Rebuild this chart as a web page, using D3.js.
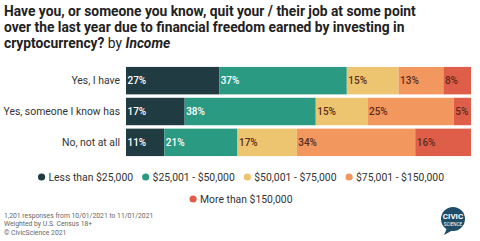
<!DOCTYPE html>
<html>
<head>
<meta charset="utf-8">
<script src="https://cdn.jsdelivr.net/npm/d3@7"></script>
<style>
  body { margin: 0; background: #fff; }
  svg { display: block; font-family: Roboto, "Noto Sans", sans-serif; }
</style>
</head>
<body>
<svg id="svg" width="480" height="241"></svg>
<script>
let width = 480;
let height = 241;

// data
let answers = ["Yes, I have", "Yes, someone I know has", "No, not at all"];
let incomes = ["Less than $25,000", "$25,001 - $50,000", "$50,001 - $75,000", "$75,001 - $150,000", "More than $150,000"];
let lessThan25k = [27, 17, 11];
let from25kTo50k = [37, 38, 21];
let from50kTo75k = [15, 15, 17];
let from75kTo150k = [13, 25, 34];
let moreThan150k = [8, 5, 16];
let colors = ["#213b43", "#2a9a83", "#edc46f", "#f2985e", "#df5e4a"];
let labelColors = ["#fff", "#fff", "#5a2c1c", "#5a2c1c", "#5a2c1c"];

let series = [lessThan25k, from25kTo50k, from50kTo75k, from75kTo150k, moreThan150k];
let rows = answers.map((a, i) => {
    let r = { answer: a };
    incomes.forEach((k, j) => r[k] = series[j][i]);
    return r;
});

let svg = d3.select("#svg");

// title
let title = svg.append("text")
    .style("font-size", "13.8px")
    .style("font-weight", "bold")
    .style("fill", "#222");
title.append("tspan").attr("x", 4).attr("y", 16)
    .text("Have you, or someone you know, quit your / their job at some point");
title.append("tspan").attr("x", 4).attr("y", 32)
    .text("over the last year due to financial freedom earned by investing in");
let t3 = title.append("tspan").attr("x", 4).attr("y", 47.5);
t3.append("tspan").text("cryptocurrency? ");
t3.append("tspan").style("font-weight", "normal").text("by ");
t3.append("tspan").style("font-style", "italic").text("Income");

// bars
let x = d3.scaleLinear().domain([0, 1]).range([126, 471]);
let y = d3.scaleBand().domain(answers).range([66, 157]).paddingInner(0.11).paddingOuter(0.03);

let stack = d3.stack().keys(incomes).offset(d3.stackOffsetExpand);
let layers = stack(rows);

let g = svg.append("g");
layers.forEach((layer, j) => {
    g.selectAll(null)
        .data(layer)
        .enter()
        .append("rect")
        .attr("x", d => x(d[0]))
        .attr("y", d => y(d.data.answer))
        .attr("width", d => x(d[1]) - x(d[0]))
        .attr("height", y.bandwidth())
        .style("fill", colors[j]);

    g.selectAll(null)
        .data(layer)
        .enter()
        .append("text")
        .attr("x", d => x(d[0]) + 1.5)
        .attr("y", d => y(d.data.answer) + y.bandwidth() / 2 + 3.6)
        .style("font-size", "10px")
        .style("font-weight", "500")
        .style("fill", labelColors[j])
        .text(d => d.data[incomes[j]] + "%");
});

svg.append("g")
    .selectAll("text")
    .data(answers)
    .enter()
    .append("text")
    .attr("x", 120)
    .attr("y", d => y(d) + y.bandwidth() / 2 + 3.7)
    .attr("text-anchor", "end")
    .style("font-size", "10.4px")
    .style("fill", "#333")
    .text(d => d);

// legend
let legendRows = [incomes.slice(0, 4), incomes.slice(4)];
let legendY = [177, 199];
legendRows.forEach((items, r) => {
    let lg = svg.append("g");
    let cx = 0;
    items.forEach(name => {
        let j = incomes.indexOf(name);
        lg.append("circle")
            .attr("cx", cx + 3.6)
            .attr("cy", 0)
            .attr("r", 3.6)
            .style("fill", colors[j]);
        let t = lg.append("text")
            .attr("x", cx + 10.5)
            .attr("y", 3.7)
            .style("font-size", "10.4px")
            .style("fill", "#333")
            .text(name);
        cx += 10.5 + t.node().getComputedTextLength() + 9;
    });
    cx -= 9;
    lg.attr("transform", `translate(${(width - cx) / 2 + 1},${legendY[r]})`);
});

// footer
let notes = ["1,201 responses from 10/01/2021 to 11/01/2021", "Weighted by U.S. Census 18+", "\u00a9 CivicScience 2021"];
svg.append("g")
    .selectAll("text")
    .data(notes)
    .enter()
    .append("text")
    .attr("x", 4)
    .attr("y", (d, i) => 218 + i * 8.3)
    .style("font-size", "6.8px")
    .style("fill", "#666")
    .text(d => d);

// logo
let logo = svg.append("g").attr("transform", "translate(453,219)");
logo.append("path")
    .attr("d", "M-6,9 L-9,16 L0,11 Z")
    .style("fill", "#1f4d68");
logo.append("circle").attr("r", 12).style("fill", "#1f4d68");
logo.append("text")
    .attr("y", 0)
    .attr("text-anchor", "middle")
    .style("font-size", "8px")
    .style("font-weight", "bold")
    .style("fill", "#fff")
    .text("CIVIC");
logo.append("text")
    .attr("y", 6.5)
    .attr("text-anchor", "middle")
    .style("font-size", "4.6px")
    .style("fill", "#fff")
    .text("SCIENCE");
</script>
</body>
</html>
